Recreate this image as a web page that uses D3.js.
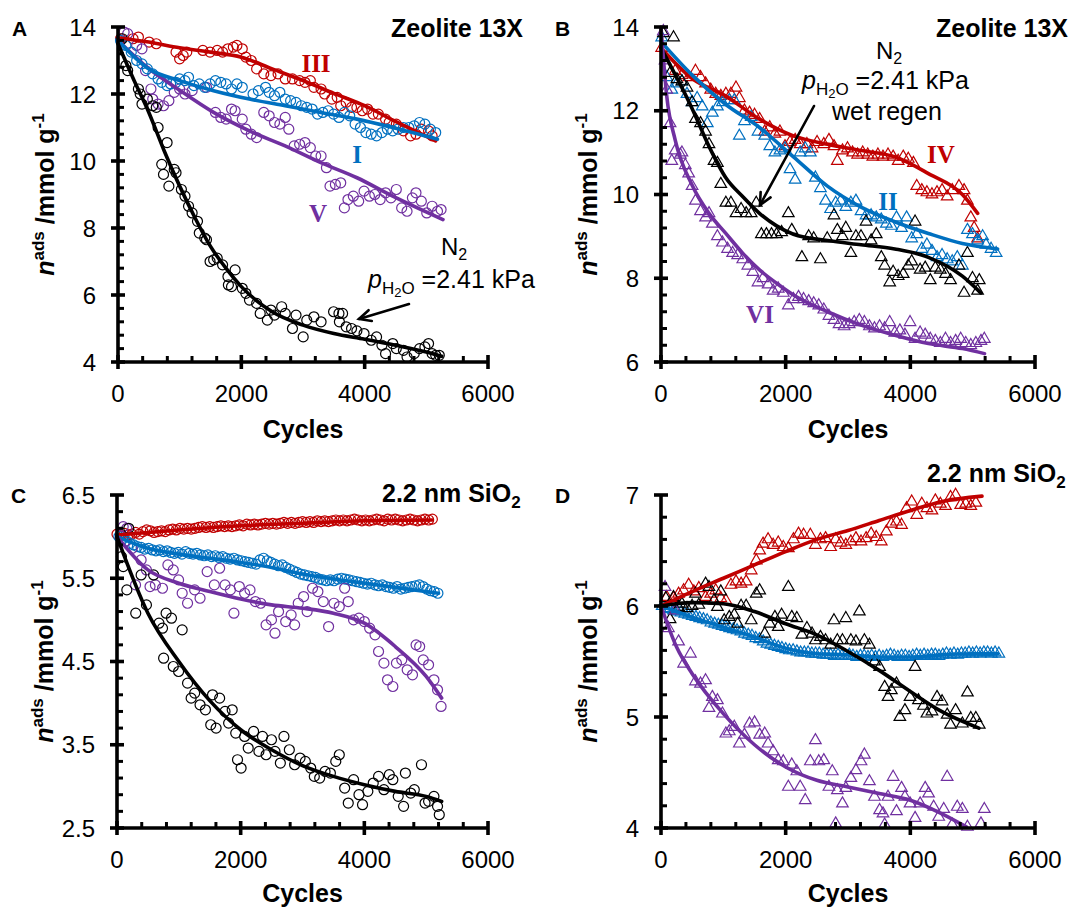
<!DOCTYPE html>
<html>
<head>
<meta charset="utf-8">
<script src="https://cdn.jsdelivr.net/npm/d3@7"></script>
<style>
  body { margin: 0; background: #fff; }
  svg { display: block; }
</style>
</head>
<body>
<svg id="chart" width="1070" height="907"></svg>
<script>
// ---------- Panel A: Zeolite 13X, circles (cycles, n_ads) ----------
const aBlackPts = [[70,13.65],[128,12.85],[157,12.7],[331,12.15],[360,12.0],[389,11.7],[476,11.85],[563,11.65],[621,11.6],[650,11.0],[709,9.9],[738,9.6],[796,10.55],[825,9.25],[912,9.75],[941,9.65],[1028,9.15],[1086,8.95],[1144,8.65],[1202,8.45],[1289,8.2],[1318,7.85],[1406,7.7],[1435,7.65],[1493,7.0],[1551,7.05],[1609,7.1],[1696,6.9],[1783,6.55],[1790,6.3],[1841,6.25],[1899,6.75],[2015,6.2],[2073,6.05],[2132,5.85],[2248,5.75],[2306,5.45],[2422,5.25],[2480,5.55],[2538,5.4],[2654,5.65],[2712,5.45],[2829,5.0],[2887,5.4],[3003,4.75],[3061,5.25],[3177,5.35],[3293,5.2],[3496,5.5],[3583,5.45],[3590,5.2],[3642,5.45],[3700,5.05],[3787,5.0],[3874,4.93],[3990,4.85],[4106,4.65],[4193,4.75],[4280,4.5],[4339,4.25],[4455,4.55],[4513,4.4],[4629,4.35],[4687,4.15],[4803,4.25],[4890,4.4],[4977,4.45],[5036,4.55],[5094,4.25],[5152,4.2],[5210,4.2]];
const aBlackFit = [[0,13.5],[250,12.45],[500,11.45],[750,10.3],[1000,9.25],[1250,8.3],[1500,7.45],[1750,6.8],[2000,6.25],[2500,5.5],[3000,5.1],[3500,4.85],[4000,4.68],[4500,4.5],[5000,4.3],[5250,4.17]];

const aRedPts = [[41,13.65],[244,13.65],[331,13.7],[505,13.55],[621,13.5],[941,13.25],[999,13.05],[1057,13.15],[1115,13.25],[1376,13.3],[1493,13.25],[1609,13.3],[1696,13.25],[1783,13.35],[1870,13.4],[1928,13.45],[2015,13.35],[2073,13.1],[2161,13.0],[2248,12.75],[2364,12.6],[2480,12.55],[2596,12.6],[2712,12.45],[2829,12.45],[2945,12.4],[3032,12.35],[3119,12.4],[3177,12.2],[3293,12.15],[3351,12.0],[3467,11.85],[3554,11.9],[3612,11.65],[3700,11.75],[3787,11.6],[3874,11.6],[3961,11.5],[4048,11.55],[4135,11.4],[4222,11.4],[4339,11.25],[4397,11.15],[4513,11.1],[4629,10.9],[4745,10.75],[4832,10.8],[4919,10.95],[5036,10.9],[5094,10.75]];
const aRedFit = [[0,13.68],[500,13.55],[1000,13.38],[1500,13.25],[2000,13.1],[2500,12.75],[3000,12.4],[3500,12.02],[4000,11.65],[4500,11.18],[5150,10.6]];

const aBluePts = [[41,13.6],[128,13.45],[215,13.25],[302,13.0],[389,12.9],[476,12.75],[563,12.6],[650,12.45],[709,12.35],[796,12.25],[854,12.3],[941,12.35],[999,12.45],[1086,12.4],[1144,12.5],[1231,12.25],[1318,12.3],[1406,12.2],[1493,12.3],[1580,12.4],[1667,12.35],[1754,12.3],[1841,12.15],[1928,12.3],[2015,12.2],[2190,12.0],[2277,12.1],[2393,12.2],[2451,12.05],[2538,11.95],[2625,12.05],[2712,11.85],[2799,11.8],[2887,11.75],[2974,11.65],[3061,11.6],[3148,11.55],[3235,11.4],[3322,11.45],[3409,11.5],[3496,11.4],[3583,11.3],[3671,11.45],[3758,11.35],[3845,11.1],[3932,11.0],[4019,10.85],[4106,10.8],[4193,10.75],[4280,10.85],[4368,10.95],[4455,10.9],[4542,10.95],[4629,11.0],[4716,11.0],[4803,11.05],[4890,11.15],[4977,11.1],[5065,10.95],[5152,10.85]];
const aBlueFit = [[0,13.6],[500,12.75],[1000,12.4],[1550,12.1],[2130,11.85],[2710,11.65],[3290,11.45],[3875,11.25],[4455,11.0],[5180,10.65]];

const aPurplePts = [[99,13.85],[157,13.8],[302,13.45],[389,13.35],[447,12.7],[534,12.15],[563,11.85],[650,11.7],[738,11.65],[825,11.8],[912,12.05],[999,12.15],[1086,12.0],[1202,12.1],[1435,12.2],[1580,11.45],[1667,11.3],[1754,11.25],[1841,11.55],[1899,11.5],[2015,11.25],[2073,10.95],[2161,10.8],[2248,10.7],[2364,11.45],[2451,11.35],[2538,11.15],[2625,11.1],[2712,11.3],[2770,10.95],[2857,10.45],[2945,10.5],[3032,10.55],[3119,10.4],[3206,10.15],[3293,10.15],[3380,9.8],[3438,9.25],[3525,9.3],[3612,9.35],[3671,8.6],[3729,8.85],[3816,8.95],[3903,8.8],[3990,9.1],[4077,8.95],[4164,9.0],[4251,8.85],[4339,9.05],[4426,8.9],[4513,9.15],[4600,8.6],[4687,8.5],[4774,8.9],[4832,9.05],[4919,8.8],[5007,8.45],[5094,8.65],[5181,8.5],[5239,8.55]];
const aPurpleFit = [[0,13.6],[505,12.75],[970,12.15],[1550,11.45],[2130,10.9],[2710,10.45],[3290,9.95],[3875,9.5],[4455,8.95],[5270,8.25]];

// ---------- Panel B: Zeolite 13X, triangles ----------
const bRedPts = [[11,13.5],[228,12.95],[336,12.85],[444,12.8],[553,12.95],[634,12.8],[715,12.65],[797,12.5],[878,12.4],[959,12.35],[1041,12.4],[1122,12.4],[1203,12.55],[1257,12.3],[1339,12.0],[1420,11.95],[1501,11.9],[1583,11.8],[1664,11.5],[1745,11.6],[1827,11.45],[1908,11.5],[1989,11.15],[2070,11.25],[2152,11.3],[2233,11.2],[2341,11.2],[2423,11.1],[2504,11.25],[2612,11.2],[2694,11.3],[2775,11.15],[2829,10.8],[2911,11.05],[2992,11.1],[3073,11.0],[3154,10.95],[3236,11.0],[3317,10.95],[3398,10.9],[3480,10.95],[3561,10.9],[3642,10.95],[3724,10.9],[3805,10.8],[3886,10.9],[3967,10.85],[4049,10.75],[4103,10.2],[4184,10.1],[4266,10.05],[4347,10.0],[4428,10.05],[4509,10.1],[4591,9.95],[4672,10.1],[4780,10.2],[4862,10.1],[4915,9.85],[4970,9.45],[5024,9.2],[5079,8.95]];
const bRedFit = [[0,13.5],[500,12.77],[1040,12.35],[1580,11.8],[2125,11.4],[2670,11.2],[3210,11.05],[3750,10.9],[4290,10.5],[4835,10.0],[5080,9.55]];

const bBluePts = [[11,13.75],[92,12.8],[173,12.5],[255,12.65],[336,12.7],[417,12.4],[499,12.2],[580,12.3],[661,12.1],[743,11.7],[824,11.95],[905,12.1],[986,12.2],[1095,12.25],[1176,12.25],[1257,11.4],[1339,11.75],[1447,11.85],[1556,11.5],[1664,11.4],[1745,11.15],[1827,11.0],[1908,11.05],[1989,11.1],[2070,10.6],[2152,10.35],[2233,11.0],[2314,11.1],[2396,11.0],[2477,10.4],[2558,10.15],[2640,9.85],[2721,9.65],[2802,9.8],[2883,9.85],[2965,9.7],[3046,9.8],[3127,9.85],[3209,9.6],[3290,9.5],[3371,9.5],[3453,9.45],[3534,9.4],[3615,9.3],[3696,9.25],[3778,9.45],[3859,9.2],[3940,9.45],[4022,8.95],[4103,9.05],[4184,8.7],[4266,8.8],[4347,8.65],[4428,8.5],[4509,8.55],[4591,8.45],[4672,8.4],[4753,8.5],[4835,8.3],[4916,9.15],[4997,9.05],[5079,8.9],[5160,9.0],[5214,8.8],[5295,8.7],[5377,8.6]];
const bBlueFit = [[0,13.65],[500,12.85],[1040,12.15],[1580,11.6],[2125,10.9],[2670,10.2],[3210,9.7],[3750,9.35],[4290,9.07],[4835,8.83],[5400,8.7]];

const bBlackPts = [[38,13.85],[146,12.9],[201,13.75],[255,12.75],[336,12.7],[417,12.55],[499,12.2],[553,11.8],[634,11.7],[715,11.5],[770,11.2],[851,10.8],[905,10.75],[959,10.25],[1041,9.8],[1122,9.8],[1203,9.55],[1285,9.65],[1366,9.55],[1447,9.55],[1528,9.8],[1610,9.05],[1691,9.05],[1772,9.05],[1854,9.05],[1935,9.1],[2043,9.55],[2098,9.15],[2260,8.5],[2369,9.0],[2450,8.95],[2558,8.45],[2667,8.95],[2775,9.5],[2829,9.15],[2911,9.0],[2965,9.2],[3046,8.6],[3127,9.0],[3209,9.0],[3290,9.35],[3371,8.9],[3453,9.05],[3534,8.5],[3588,8.3],[3669,7.9],[3724,8.15],[3805,8.05],[3886,8.1],[3967,8.3],[4022,8.4],[4076,9.35],[4157,8.2],[4238,8.25],[4320,7.95],[4401,8.25],[4482,8.2],[4564,8.1],[4645,7.95],[4780,8.3],[4862,7.65],[4916,8.6],[4997,8.0],[5079,7.7],[5106,7.95]];
const bBlackFit = [[0,13.5],[500,12.05],[770,11.15],[1040,10.4],[1310,9.95],[1580,9.55],[1855,9.25],[2125,9.05],[2670,8.9],[3210,8.8],[3750,8.7],[4290,8.5],[4835,8.05],[5130,7.65]];

const bPurplePts = [[38,13.9],[65,13.2],[92,12.5],[146,11.7],[173,10.8],[228,11.05],[309,10.95],[336,11.0],[390,10.7],[444,10.5],[499,10.2],[553,9.85],[634,9.6],[715,9.45],[770,9.55],[824,9.3],[905,9.0],[986,8.85],[1068,8.7],[1149,8.6],[1230,8.55],[1312,8.45],[1393,8.3],[1474,8.15],[1556,7.9],[1637,8.0],[1718,7.85],[1799,7.7],[1881,7.75],[1962,7.65],[2043,7.35],[2125,7.5],[2206,7.55],[2287,7.5],[2369,7.45],[2450,7.4],[2531,7.35],[2612,7.25],[2694,7.1],[2775,7.0],[2856,6.9],[2938,6.85],[3019,6.9],[3100,6.95],[3182,7.0],[3263,6.95],[3344,6.85],[3425,6.8],[3507,6.85],[3588,6.8],[3669,6.95],[3751,6.7],[3832,6.75],[3913,6.65],[3995,6.95],[4076,6.55],[4157,6.7],[4238,6.65],[4320,6.55],[4401,6.5],[4482,6.45],[4564,6.55],[4645,6.45],[4726,6.5],[4808,6.55],[4889,6.45],[4970,6.4],[5051,6.45],[5133,6.5],[5187,6.55]];
const bPurpleFit = [[0,14.0],[92,12.35],[228,11.3],[500,10.22],[770,9.55],[1040,9.07],[1310,8.6],[1580,8.2],[1855,7.88],[2125,7.6],[2670,7.2],[3210,6.88],[3750,6.64],[4290,6.44],[4835,6.32],[5190,6.2]];

// ---------- Panel C: 2.2 nm SiO2, circles ----------
const cRedPts = [[0,6.03],[60,6.02],[120,6.04],[180,6.02],[240,6.03],[300,6.05],[360,6.03],[420,6.06],[480,6.08],[540,6.07],[600,6.05],[660,6.06],[720,6.07],[780,6.06],[840,6.08],[900,6.09],[960,6.08],[1020,6.1],[1080,6.09],[1140,6.1],[1200,6.09],[1260,6.1],[1320,6.11],[1380,6.12],[1440,6.11],[1500,6.12],[1560,6.11],[1620,6.12],[1680,6.13],[1740,6.12],[1800,6.13],[1860,6.12],[1920,6.13],[1980,6.14],[2040,6.13],[2100,6.15],[2160,6.14],[2220,6.15],[2280,6.14],[2340,6.15],[2400,6.16],[2460,6.15],[2520,6.16],[2580,6.15],[2640,6.16],[2700,6.17],[2760,6.16],[2820,6.17],[2880,6.16],[2940,6.17],[3000,6.18],[3060,6.17],[3120,6.18],[3180,6.17],[3240,6.19],[3300,6.18],[3360,6.19],[3420,6.18],[3480,6.19],[3540,6.2],[3600,6.19],[3660,6.2],[3720,6.19],[3780,6.2],[3840,6.21],[3900,6.2],[3960,6.19],[4020,6.2],[4080,6.19],[4140,6.2],[4200,6.21],[4260,6.2],[4320,6.19],[4380,6.21],[4440,6.2],[4500,6.21],[4560,6.2],[4620,6.19],[4680,6.2],[4740,6.21],[4800,6.2],[4860,6.19],[4920,6.2],[4980,6.21],[5040,6.2],[5100,6.21]];
const cRedFit = [[0,6.02],[1000,6.08],[2000,6.13],[3000,6.16],[4000,6.19],[5100,6.2]];

const cBluePts = [[30,6.0],[90,5.97],[150,5.95],[210,5.92],[270,5.9],[330,5.88],[390,5.87],[450,5.85],[510,5.86],[570,5.84],[630,5.83],[690,5.84],[750,5.82],[810,5.83],[870,5.81],[930,5.8],[990,5.81],[1050,5.79],[1110,5.82],[1170,5.8],[1230,5.79],[1290,5.8],[1350,5.78],[1410,5.77],[1470,5.78],[1530,5.76],[1590,5.77],[1650,5.75],[1710,5.76],[1770,5.74],[1830,5.73],[1890,5.74],[1950,5.72],[2010,5.71],[2070,5.7],[2130,5.69],[2190,5.68],[2250,5.67],[2310,5.72],[2370,5.74],[2430,5.71],[2490,5.69],[2550,5.67],[2610,5.65],[2670,5.66],[2730,5.63],[2790,5.61],[2850,5.59],[2910,5.57],[2970,5.55],[3030,5.54],[3090,5.53],[3150,5.52],[3210,5.51],[3270,5.49],[3330,5.48],[3390,5.47],[3450,5.48],[3510,5.47],[3570,5.49],[3630,5.5],[3690,5.49],[3750,5.48],[3810,5.47],[3870,5.46],[3930,5.45],[3990,5.44],[4050,5.43],[4110,5.44],[4170,5.42],[4230,5.41],[4290,5.42],[4350,5.4],[4410,5.39],[4470,5.38],[4530,5.4],[4590,5.37],[4650,5.38],[4710,5.39],[4770,5.4],[4830,5.41],[4890,5.42],[4950,5.4],[5010,5.37],[5070,5.35],[5130,5.34],[5190,5.32]];
const cBlueFit = [[0,6.0],[500,5.86],[1000,5.79],[1500,5.74],[2000,5.69],[2500,5.63],[3000,5.55],[3500,5.49],[4000,5.44],[4500,5.39],[5200,5.32]];

const cPurplePts = [[100,6.12],[159,6.1],[245,5.86],[300,5.42],[390,5.72],[476,5.6],[534,5.4],[621,5.42],[736,5.38],[823,5.66],[910,5.6],[996,5.48],[1054,5.32],[1141,5.2],[1256,5.36],[1343,5.26],[1458,5.58],[1574,5.42],[1660,5.62],[1747,5.42],[1834,5.36],[1891,5.08],[1978,5.4],[2064,5.32],[2151,5.36],[2238,5.22],[2324,5.2],[2411,4.94],[2498,5.0],[2555,4.84],[2613,5.1],[2728,4.98],[2816,5.06],[2873,4.94],[2931,5.2],[3018,5.28],[3075,5.1],[3162,5.38],[3249,5.34],[3336,5.22],[3422,4.92],[3509,5.2],[3595,5.16],[3682,5.38],[3740,5.22],[3826,5.0],[3913,5.02],[4000,4.98],[4086,4.9],[4173,4.82],[4230,4.62],[4317,4.48],[4375,4.28],[4461,4.2],[4519,4.48],[4606,4.52],[4693,4.4],[4779,4.34],[4837,4.7],[4895,4.68],[4953,4.52],[5039,4.46],[5126,4.28],[5184,4.16],[5241,3.96]];
const cPurpleFit = [[0,6.0],[500,5.6],[1000,5.44],[1500,5.34],[2000,5.25],[2500,5.18],[3000,5.14],[3500,5.08],[4000,4.96],[4500,4.68],[5000,4.32],[5250,4.06]];

const cBlackPts = [[72,5.76],[101,5.64],[159,5.36],[190,6.1],[303,5.08],[390,5.54],[476,5.18],[592,5.54],[679,4.96],[736,4.9],[754,4.54],[794,5.08],[881,5.02],[910,4.44],[996,4.38],[1054,4.88],[1141,4.24],[1199,4.06],[1256,4.12],[1343,3.98],[1430,3.92],[1516,3.74],[1545,4.1],[1603,3.7],[1660,4.06],[1747,3.9],[1805,3.76],[1863,3.92],[1920,3.64],[1949,3.32],[2007,3.22],[2064,3.6],[2122,3.46],[2209,3.66],[2295,3.42],[2353,3.6],[2411,3.38],[2498,3.56],[2555,3.42],[2642,3.28],[2700,3.6],[2787,3.44],[2873,3.26],[2960,3.34],[3046,3.3],[3133,3.22],[3191,3.12],[3278,3.1],[3364,3.18],[3451,3.16],[3538,3.3],[3595,3.38],[3682,2.98],[3740,2.8],[3826,3.08],[3913,2.9],[3971,2.78],[4057,2.94],[4144,3.04],[4230,3.12],[4317,2.96],[4404,3.14],[4461,3.08],[4548,2.88],[4635,2.76],[4664,3.16],[4750,2.92],[4808,2.96],[4924,3.26],[4982,2.8],[5039,2.82],[5126,2.88],[5184,2.76],[5212,2.66]];
const cBlackFit = [[0,6.0],[500,5.08],[1000,4.5],[1500,4.03],[2000,3.68],[2500,3.44],[3000,3.25],[3500,3.12],[4000,3.02],[4500,2.94],[5000,2.88],[5250,2.82]];

// ---------- Panel D: 2.2 nm SiO2, triangles ----------
const dRedPts = [[92,6.08],[201,6.07],[282,6.11],[363,6.14],[444,6.19],[526,6.13],[607,6.16],[715,6.08],[797,6.11],[878,6.14],[959,6.07],[1041,6.05],[1122,6.19],[1203,6.22],[1285,6.2],[1366,6.22],[1447,6.32],[1528,6.41],[1583,6.5],[1637,6.56],[1718,6.6],[1799,6.55],[1881,6.57],[1962,6.53],[2043,6.52],[2125,6.6],[2206,6.65],[2287,6.64],[2396,6.64],[2477,6.55],[2558,6.6],[2640,6.61],[2721,6.53],[2802,6.6],[2883,6.57],[2965,6.55],[3046,6.58],[3127,6.61],[3209,6.58],[3290,6.61],[3371,6.65],[3453,6.62],[3534,6.58],[3615,6.67],[3696,6.74],[3778,6.76],[3859,6.73],[3940,6.88],[4022,6.94],[4103,6.82],[4184,6.92],[4266,6.88],[4347,6.86],[4401,6.95],[4482,6.92],[4564,6.9],[4645,6.98],[4726,7.0],[4808,6.91],[4889,6.92],[4970,6.9],[5051,6.93]];
const dRedFit = [[0,6.0],[500,6.13],[1000,6.25],[1500,6.37],[2000,6.49],[2500,6.6],[3000,6.68],[3500,6.77],[4000,6.86],[4500,6.94],[5150,6.99]];

const dBluePts = [[20,6.0],[80,5.98],[140,5.97],[200,5.96],[260,5.95],[320,5.94],[380,5.93],[440,5.92],[500,5.91],[560,5.9],[620,5.89],[680,5.88],[740,5.87],[800,5.85],[860,5.84],[920,5.83],[980,5.82],[1040,5.81],[1100,5.8],[1160,5.79],[1220,5.78],[1280,5.77],[1340,5.75],[1400,5.74],[1460,5.73],[1520,5.71],[1580,5.7],[1640,5.68],[1700,5.66],[1760,5.65],[1820,5.64],[1880,5.63],[1940,5.62],[2000,5.61],[2060,5.6],[2120,5.6],[2180,5.59],[2240,5.58],[2300,5.58],[2360,5.58],[2420,5.57],[2480,5.57],[2540,5.57],[2600,5.56],[2660,5.56],[2720,5.56],[2780,5.55],[2840,5.56],[2900,5.55],[2960,5.55],[3020,5.56],[3080,5.55],[3140,5.54],[3200,5.55],[3260,5.55],[3320,5.54],[3380,5.55],[3440,5.54],[3500,5.55],[3560,5.54],[3620,5.55],[3680,5.56],[3740,5.55],[3800,5.54],[3860,5.55],[3920,5.55],[3980,5.54],[4040,5.55],[4100,5.56],[4160,5.55],[4220,5.56],[4280,5.55],[4340,5.56],[4400,5.56],[4460,5.55],[4520,5.56],[4580,5.57],[4640,5.56],[4700,5.57],[4760,5.56],[4820,5.57],[4880,5.57],[4940,5.58],[5000,5.57],[5060,5.58],[5120,5.57],[5180,5.58],[5240,5.58],[5300,5.57],[5360,5.58],[5420,5.57]];
const dBlueFit = [[0,6.0],[500,5.9],[1000,5.81],[1500,5.72],[2000,5.62],[2500,5.57],[3000,5.56],[3500,5.54],[4000,5.54],[4500,5.56],[5000,5.57],[5400,5.57]];

const dBlackPts = [[76,6.07],[146,5.88],[201,6.08],[282,5.99],[336,6.02],[417,5.98],[499,6.0],[553,6.11],[607,6.01],[715,6.2],[770,6.17],[851,6.05],[905,5.99],[959,6.13],[1014,5.87],[1095,5.9],[1176,5.92],[1230,5.84],[1285,6.0],[1366,6.0],[1447,5.87],[1528,6.11],[1583,6.14],[1664,5.75],[1745,5.84],[1827,5.9],[1881,5.81],[1935,5.92],[2043,6.17],[2098,5.9],[2179,5.89],[2260,5.74],[2341,5.8],[2423,5.75],[2477,5.69],[2558,5.72],[2640,5.69],[2721,5.65],[2775,5.87],[2829,5.69],[2911,5.69],[2965,5.89],[3046,5.69],[3127,5.68],[3182,5.95],[3263,5.69],[3344,5.65],[3425,5.5],[3507,5.45],[3588,5.27],[3642,5.18],[3696,5.24],[3778,5.3],[3832,5.0],[3913,5.06],[3995,5.18],[4076,5.45],[4130,5.15],[4211,5.1],[4266,5.03],[4347,5.05],[4428,5.18],[4509,5.14],[4591,5.02],[4645,4.93],[4726,5.06],[4835,4.94],[4916,5.22],[4970,4.99],[5051,4.99],[5106,4.93]];
const dBlackFit = [[0,6.0],[500,6.03],[1000,6.02],[1500,5.95],[2000,5.84],[2500,5.74],[3000,5.59],[3500,5.42],[4000,5.23],[4500,5.05],[5100,4.9]];

const dPurplePts = [[65,6.17],[119,5.8],[228,5.96],[282,5.68],[363,5.48],[472,5.57],[553,5.32],[634,5.3],[715,5.33],[770,5.08],[824,5.18],[905,5.15],[986,5.03],[1041,4.85],[1095,4.87],[1176,4.91],[1257,4.76],[1339,4.84],[1420,4.94],[1501,4.95],[1583,4.84],[1664,4.85],[1718,4.76],[1799,4.69],[1881,4.61],[1962,4.6],[2043,4.37],[2098,4.57],[2179,4.51],[2233,4.37],[2314,4.25],[2396,4.6],[2477,4.79],[2531,4.6],[2612,4.61],[2694,4.37],[2748,4.51],[2802,4.04],[2829,4.34],[2911,4.22],[2965,4.36],[3046,4.45],[3127,4.52],[3209,4.6],[3263,4.66],[3344,4.42],[3425,4.28],[3507,4.16],[3561,4.13],[3588,4.03],[3642,4.28],[3724,4.46],[3778,4.15],[3859,4.36],[3913,4.28],[3995,4.22],[4076,4.09],[4157,4.22],[4238,4.36],[4293,4.31],[4374,4.19],[4455,4.1],[4536,4.17],[4591,4.46],[4672,4.03],[4753,4.19],[4835,4.17],[4916,4.01],[5133,4.04],[5187,4.17]];
const dPurpleFit = [[0,6.0],[250,5.63],[500,5.39],[1000,5.03],[1500,4.75],[2000,4.55],[2500,4.43],[3000,4.37],[3500,4.31],[4000,4.25],[4500,4.13],[4900,4.01]];

// ---------- Axis ticks ----------
const xTicks = [0, 2000, 4000, 6000];
const yTicksA = [4, 6, 8, 10, 12, 14];
const yTicksB = [6, 8, 10, 12, 14];
const yTicksC = [2.5, 3.5, 4.5, 5.5, 6.5];
const yTicksD = [4, 5, 6, 7];

const RED = "#c00000", BLUE = "#0070c0", PURPLE = "#7030a0", BLACK = "#000000";
const SANS = "'Liberation Sans', Arial, sans-serif";
const SERIF = "'Liberation Serif', 'Times New Roman', serif";

const panels = [
  { letter: "A", box: { l: 118, r: 488, t: 27, b: 362 }, yTicks: yTicksA, minor: 0.4, fmt: d3.format("d"), marker: "circle",
    series: [
      { color: RED, pts: aRedPts, fit: aRedFit },
      { color: PURPLE, pts: aPurplePts, fit: aPurpleFit },
      { color: BLUE, pts: aBluePts, fit: aBlueFit },
      { color: BLACK, pts: aBlackPts, fit: aBlackFit }
    ] },
  { letter: "B", box: { l: 661, r: 1035, t: 27, b: 362 }, yTicks: yTicksB, minor: 0.4, fmt: d3.format("d"), marker: "triangle",
    series: [
      { color: RED, pts: bRedPts, fit: bRedFit },
      { color: BLUE, pts: bBluePts, fit: bBlueFit },
      { color: BLACK, pts: bBlackPts, fit: bBlackFit },
      { color: PURPLE, pts: bPurplePts, fit: bPurpleFit }
    ] },
  { letter: "C", box: { l: 117, r: 488, t: 495, b: 828 }, yTicks: yTicksC, minor: 0.2, fmt: d3.format(".1f"), marker: "circle",
    series: [
      { color: RED, pts: cRedPts, fit: cRedFit },
      { color: BLUE, pts: cBluePts, fit: cBlueFit },
      { color: PURPLE, pts: cPurplePts, fit: cPurpleFit },
      { color: BLACK, pts: cBlackPts, fit: cBlackFit }
    ] },
  { letter: "D", box: { l: 661, r: 1035, t: 495, b: 828 }, yTicks: yTicksD, minor: 0.2, fmt: d3.format("d"), marker: "triangle",
    series: [
      { color: BLUE, pts: dBluePts, fit: dBlueFit },
      { color: RED, pts: dRedPts, fit: dRedFit },
      { color: BLACK, pts: dBlackPts, fit: dBlackFit },
      { color: PURPLE, pts: dPurplePts, fit: dPurpleFit }
    ] }
];

const svg = d3.select("#chart");
const triangle = d3.symbol().type(d3.symbolTriangle).size(58);

panels.forEach(p => {
  const { l, r, t, b } = p.box;
  const yMin = d3.min(p.yTicks), yMax = d3.max(p.yTicks);
  const x = d3.scaleLinear().domain([0, 6000]).range([l, r]);
  const y = d3.scaleLinear().domain([yMin, yMax]).range([b, t]);
  const g = svg.append("g").attr("class", "panel-" + p.letter);

  // markers and fitted curves
  const line = d3.line().x(d => x(d[0])).y(d => y(d[1])).curve(d3.curveMonotoneX);
  p.series.forEach(s => {
    const pg = g.append("g");
    if (p.marker === "circle") {
      pg.selectAll("circle").data(s.pts).join("circle")
        .attr("cx", d => x(d[0])).attr("cy", d => y(d[1])).attr("r", 5)
        .attr("fill", "none").attr("stroke", s.color).attr("stroke-width", 1.2);
    } else {
      pg.selectAll("path").data(s.pts).join("path")
        .attr("d", triangle)
        .attr("transform", d => `translate(${x(d[0])},${y(d[1])})`)
        .attr("fill", "none").attr("stroke", s.color).attr("stroke-width", 1.2);
    }
  });
  p.series.forEach(s => {
    g.append("path").datum(s.fit).attr("d", line)
      .attr("fill", "none").attr("stroke", s.color).attr("stroke-width", 3.6)
      .attr("stroke-linecap", "round");
  });

  // axes
  const ax = g.append("g").attr("stroke", "#000");
  ax.append("line").attr("x1", x(0)).attr("x2", x(0)).attr("y1", y(yMax)).attr("y2", y(yMin)).attr("stroke-width", 3.6);
  ax.append("line").attr("x1", x(0)).attr("x2", x(6000)).attr("y1", y(yMin)).attr("y2", y(yMin)).attr("stroke-width", 3.6);

  const yMinor = d3.range(yMin, yMax + 1e-9, p.minor).filter(v => !p.yTicks.some(tk => Math.abs(tk - v) < 1e-6));
  ax.selectAll(".ymin").data(yMinor).join("line")
    .attr("x1", x(0)).attr("x2", x(0) + 6).attr("y1", d => y(d)).attr("y2", d => y(d)).attr("stroke-width", 3);
  ax.selectAll(".ymaj").data(p.yTicks).join("line")
    .attr("x1", x(0) - 7).attr("x2", x(0) + 7).attr("y1", d => y(d)).attr("y2", d => y(d)).attr("stroke-width", 3.6);

  const xMinor = d3.range(400, 6000, 400).filter(v => v % 2000 !== 0);
  ax.selectAll(".xmin").data(xMinor).join("line")
    .attr("x1", d => x(d)).attr("x2", d => x(d)).attr("y1", y(yMin) - 6).attr("y2", y(yMin)).attr("stroke-width", 3);
  ax.selectAll(".xmaj").data(xTicks).join("line")
    .attr("x1", d => x(d)).attr("x2", d => x(d)).attr("y1", y(yMin) - 7).attr("y2", y(yMin) + 7).attr("stroke-width", 3.6);

  // tick labels
  g.selectAll(".ylab").data(p.yTicks).join("text")
    .attr("x", x(0) - 22).attr("y", d => y(d)).attr("dy", "0.36em")
    .attr("text-anchor", "end").attr("font-family", SANS).attr("font-size", 24)
    .text(p.fmt);
  g.selectAll(".xlab").data(xTicks).join("text")
    .attr("x", d => x(d)).attr("y", y(yMin) + 40)
    .attr("text-anchor", "middle").attr("font-family", SANS).attr("font-size", 24)
    .text(d3.format("d"));

  // axis titles
  g.append("text").attr("x", (l + r) / 2).attr("y", Math.min(b + 76, 902))
    .attr("text-anchor", "middle").attr("font-family", SANS).attr("font-size", 25).attr("font-weight", "bold")
    .text("Cycles");
  const yt = g.append("text")
    .attr("transform", `translate(${l - 64},${(t + b) / 2}) rotate(-90)`)
    .attr("text-anchor", "middle").attr("font-family", SANS).attr("font-size", 25).attr("font-weight", "bold");
  yt.append("tspan").attr("font-style", "italic").text("n");
  yt.append("tspan").attr("font-size", 17).attr("dy", -10).text("ads");
  yt.append("tspan").attr("dy", 10).text(" /mmol g");
  yt.append("tspan").attr("font-size", 17).attr("dy", -10).text("-1");

  // panel letter
  g.append("text").attr("x", l - 106).attr("y", p.letter === "A" || p.letter === "B" ? 36 : 503)
    .attr("font-family", SANS).attr("font-size", 21).attr("font-weight", "bold").text(p.letter);
});

// panel titles
function boldText(xp, yp, anchor) {
  return svg.append("text").attr("x", xp).attr("y", yp).attr("text-anchor", anchor)
    .attr("font-family", SANS).attr("font-size", 25).attr("font-weight", "bold");
}
boldText(523, 37, "end").text("Zeolite 13X");
boldText(1068, 37, "end").text("Zeolite 13X");
const tC = boldText(382, 502, "start");
tC.append("tspan").text("2.2 nm SiO");
tC.append("tspan").attr("font-size", 17).attr("dy", 6).text("2");
const tD = boldText(927, 482, "start");
tD.append("tspan").text("2.2 nm SiO");
tD.append("tspan").attr("font-size", 17).attr("dy", 6).text("2");

// series numerals
const numerals = [
  { text: "III", x: 316, y: 72, color: RED },
  { text: "I", x: 357, y: 163, color: BLUE },
  { text: "V", x: 318, y: 222, color: PURPLE },
  { text: "IV", x: 941, y: 163, color: RED },
  { text: "II", x: 888, y: 210, color: BLUE },
  { text: "VI", x: 760, y: 323, color: PURPLE }
];
svg.selectAll(".num").data(numerals).join("text")
  .attr("x", d => d.x).attr("y", d => d.y).attr("text-anchor", "middle")
  .attr("font-family", SERIF).attr("font-size", 25).attr("font-weight", "bold")
  .attr("fill", d => d.color).text(d => d.text);

// condition notes
function conditionNote(nx, ny, px, py) {
  const n = svg.append("text").attr("x", nx).attr("y", ny).attr("font-family", SANS).attr("font-size", 24);
  n.append("tspan").text("N");
  n.append("tspan").attr("font-size", 16).attr("dy", 5).text("2");
  const pt = svg.append("text").attr("x", px).attr("y", py).attr("font-family", SANS).attr("font-size", 25);
  pt.append("tspan").attr("font-style", "italic").text("p");
  pt.append("tspan").attr("font-size", 17).attr("dy", 6).text("H");
  pt.append("tspan").attr("font-size", 13).attr("dy", 3).text("2");
  pt.append("tspan").attr("font-size", 17).attr("dy", -3).text("O");
  pt.append("tspan").attr("dy", -6).text(" =2.41 kPa");
}
conditionNote(441, 255, 368, 288);
conditionNote(876, 59, 802, 89);
svg.append("text").attr("x", 832).attr("y", 120).attr("font-family", SANS).attr("font-size", 25).text("wet regen");

// arrows
function arrow(x1, y1, x2, y2) {
  const ang = Math.atan2(y2 - y1, x2 - x1);
  const h = 13, spread = 0.45;
  const ag = svg.append("g").attr("stroke", "#000").attr("stroke-width", 2.6).attr("fill", "none").attr("stroke-linecap", "round");
  ag.append("line").attr("x1", x1).attr("y1", y1).attr("x2", x2).attr("y2", y2);
  ag.append("path").attr("d",
    `M${x2 - h * Math.cos(ang - spread)},${y2 - h * Math.sin(ang - spread)} L${x2},${y2} L${x2 - h * Math.cos(ang + spread)},${y2 - h * Math.sin(ang + spread)}`);
}
arrow(409, 304, 359, 319);
arrow(814, 106, 760, 205);
</script>
</body>
</html>
